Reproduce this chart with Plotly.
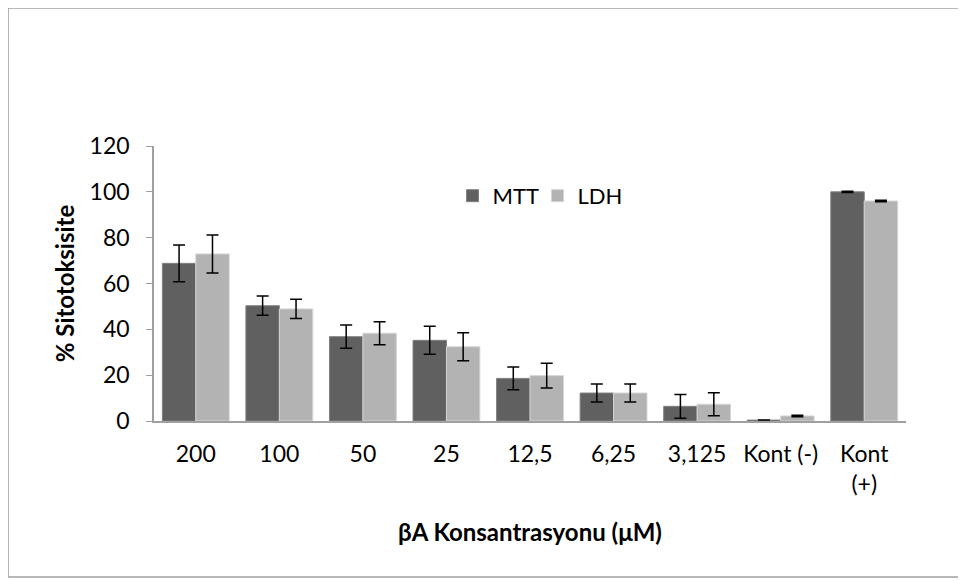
import plotly.graph_objects as go

categories = ["200", "100", "50", "25", "12,5", "6,25", "3,125", "Kont (-)", "Kont<br>(+)"]
mtt_values = [68.8, 50.3, 36.8, 35.2, 18.6, 12.2, 6.4, 0.4, 100.0]
mtt_errors = [8.0, 4.2, 5.1, 6.1, 5.0, 3.9, 5.2, 0.0, 0.3]
ldh_values = [72.9, 48.9, 38.3, 32.4, 19.8, 12.2, 7.3, 2.2, 96.0]
ldh_errors = [8.3, 4.2, 5.0, 6.1, 5.4, 3.9, 5.0, 0.3, 0.3]
y_ticks = [0, 20, 40, 60, 80, 100, 120]

FONT = "Lato"
fig = go.Figure()
fig.add_trace(go.Bar(
    x=categories, y=mtt_values, name="MTT",
    marker=dict(color="#606060", line=dict(color="#808080", width=1)),
    error_y=dict(type="data", array=mtt_errors, visible=True, color="black", thickness=1.5, width=6),
))
fig.add_trace(go.Bar(
    x=categories, y=ldh_values, name="LDH",
    marker=dict(color="#b3b3b3", line=dict(color="#d4d4d4", width=1)),
    error_y=dict(type="data", array=ldh_errors, visible=True, color="black", thickness=1.5, width=6),
))

fig.update_layout(
    width=958, height=573,
    margin=dict(l=146, r=60, t=138, b=160),
    paper_bgcolor="white", plot_bgcolor="white",
    barmode="group", bargap=0.2, bargroupgap=0,
    font=dict(family=FONT, size=23, color="black"),
    showlegend=True,
    legend=dict(orientation="h", x=0.397, y=0.895, xanchor="left", yanchor="top",
                font=dict(family=FONT, size=22, color="black"),
                bgcolor="rgba(0,0,0,0)", itemwidth=30, entrywidth=40, traceorder="normal"),
    xaxis=dict(
        showline=True, linecolor="#a0a0a0", linewidth=1.5, ticks="", showgrid=False,
        tickfont=dict(family=FONT, size=23, color="black"), ticklabelstandoff=12,
        title=dict(text="<b>βA Konsantrasyonu (μM)</b>", font=dict(family=FONT, size=24, color="black"), standoff=28),
    ),
    yaxis=dict(
        range=[0, 120], tickvals=y_ticks, showline=True, linecolor="#a0a0a0", linewidth=1.5,
        ticks="outside", ticklen=6, tickcolor="#a0a0a0", showgrid=False, zeroline=False,
        tickfont=dict(family=FONT, size=23, color="black"), ticklabelstandoff=12,
        title=dict(text="<b>% Sitotoksisite</b>", font=dict(family=FONT, size=24, color="black"), standoff=8),
    ),
    shapes=[
        dict(type="line", xref="paper", yref="paper", x0=-0.1941, x1=1.1, y0=1.5018, y1=1.5018,
             line=dict(color="#a0a0a0", width=1.5)),
        dict(type="line", xref="paper", yref="paper", x0=-0.1941, x1=-0.1941, y0=1.5018, y1=-0.5673,
             line=dict(color="#a0a0a0", width=1.5)),
        dict(type="line", xref="paper", yref="paper", x0=-0.1941, x1=1.1, y0=-0.5673, y1=-0.5673,
             line=dict(color="#a0a0a0", width=1.5)),
    ],
)

fig.write_html("out.html")
